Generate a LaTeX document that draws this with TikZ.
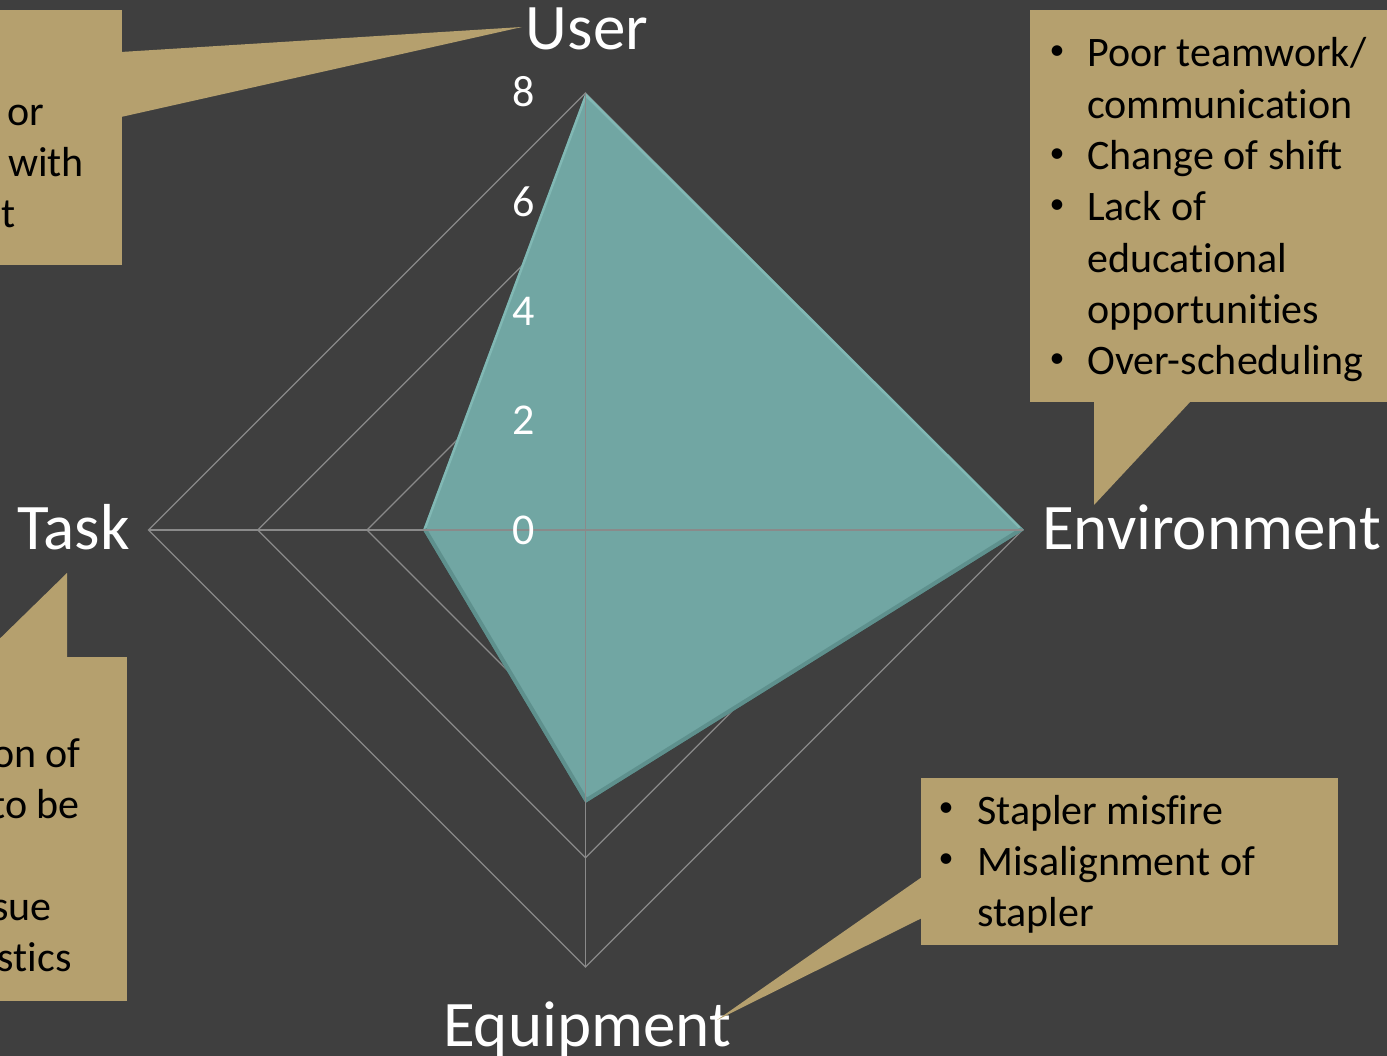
\documentclass[tikz,border=0pt]{standalone}
\usepackage{fontspec}
\setmainfont[Ligatures=NoCommon]{Carlito}
\definecolor{bgc}{HTML}{3F3F3F}
\definecolor{tanc}{RGB}{181,160,110}
\definecolor{radarfill}{HTML}{71A6A3}
\definecolor{radarlight}{HTML}{8CC4C0}
\definecolor{radardark}{HTML}{4F7F7C}
\definecolor{gridc}{HTML}{8A8A8A}
\begin{document}
\begin{tikzpicture}[x=1pt,y=-1pt,
  callout/.style={fill=tanc, draw=none},
  calltext/.style={font=\fontsize{42}{51}\selectfont, text=black, inner sep=0pt},
  bullettext/.style={font=\fontsize{30}{36}\selectfont, text=black, inner sep=0pt, anchor=center},
  axislab/.style={font=\fontsize{65}{78}\selectfont, text=white, inner sep=0pt},
  ticklab/.style={font=\fontsize{44}{53}\selectfont, text=white, inner sep=0pt, anchor=base},
  gridline/.style={draw=gridc, line width=1.3pt}]
\useasboundingbox (0,0) rectangle (1387,1056);
\clip (0,0) rectangle (1387,1056);
\fill[bgc] (0,0) rectangle (1387,1056);

% radar grid rings
\foreach \r in {109.25,218.5,327.75,437}
  \draw[gridline] (585.5,530-\r) -- (585.5+\r,530) -- (585.5,530+\r) -- (585.5-\r,530) -- cycle;

% data polygon
\coordinate (pU) at (585.5,93);
\coordinate (pE) at (1024,530);
\coordinate (pQ) at (585.5,803);
\coordinate (pT) at (423,530);
\foreach \s/\o in {2/0.25,4/0.2,6/0.15}
  \fill[black,opacity=\o,shift={(\s*0.6,\s)}] (pU) -- (pE) -- (pQ) -- (pT) -- cycle;
\fill[radarfill] (pU) -- (pE) -- (pQ) -- (pT) -- cycle;
\begin{scope}
  \clip (pU) -- (pE) -- (pQ) -- (pT) -- cycle;
  \draw[radarlight, line width=5pt, opacity=0.6] (pT) -- (pU) -- (pE);
  \draw[radardark, line width=8pt, opacity=0.55] (pE) -- (pQ) -- (pT);
\end{scope}

% spokes
\draw[gridline] (585.5,93) -- (585.5,967);
\draw[gridline] (148.5,530) -- (1022.5,530);

% tick labels
\node[ticklab] (t8) at (524,107) {8};
\node[ticklab] (t6) at (524,216.25) {6};
\node[ticklab] (t4) at (524,325.5) {4};
\node[ticklab] (t2) at (524,434.75) {2};
\node[ticklab] (t0) at (524,544) {0};

% axis labels
\node[axislab, anchor=base] (user) at (587,50) {User};
\node[axislab, anchor=base east] (task) at (130,549) {Task};
\node[axislab, anchor=base west] (env) at (1042,549) {Environment};
\node[axislab, anchor=base] (equip) at (587,1046) {Equipment};

% callout: user (top left)
\fill[callout] (-40,10) rectangle (122,265);
\fill[callout] (121,52) -- (522,27) -- (121,117) -- cycle;
\node[calltext, anchor=base east] (u1) at (44,126) {or};
\node[calltext, anchor=base east] (u2) at (84,177) {with};
\node[calltext, anchor=base east] (u3) at (16,228) {t};

% callout: task (bottom left)
\fill[callout] (-40,657) rectangle (127,1001);
\fill[callout] (-20,658) -- (67,573) -- (67,658) -- cycle;
\node[calltext, anchor=base east] (k1) at (81,767) {on of};
\node[calltext, anchor=base east] (k2) at (80,818) {to be};
\node[calltext, anchor=base east] (k3) at (52,920) {sue};
\node[calltext, anchor=base east] (k4) at (72,971) {stics};

% callout: environment (top right)
\fill[callout] (1030,10) rectangle (1400,402);
\fill[callout] (1094,401) -- (1094,505) -- (1191,401) -- cycle;
\node[bullettext] (eb1) at (1057,53) {•};
\node[calltext, anchor=base west] (e1) at (1087,67) {Poor teamwork/};
\node[calltext, anchor=base west] (e2) at (1087,118.3) {communication};
\node[bullettext] (eb3) at (1057,155.7) {•};
\node[calltext, anchor=base west] (e3) at (1087,169.7) {Change of shift};
\node[bullettext] (eb4) at (1057,207) {•};
\node[calltext, anchor=base west] (e4) at (1087,221) {Lack of};
\node[calltext, anchor=base west] (e5) at (1087,272.3) {educational};
\node[calltext, anchor=base west] (e6) at (1087,323.7) {opportunities};
\node[bullettext] (eb7) at (1057,361) {•};
\node[calltext, anchor=base west] (e7) at (1087,375) {Over-scheduling};

% callout: equipment (bottom right)
\fill[callout] (921,778) rectangle (1338,945);
\fill[callout] (922,877) -- (717,1020) -- (922,918) -- cycle;
\node[bullettext] (qb1) at (946,810) {•};
\node[calltext, anchor=base west] (q1) at (977,824) {Stapler misfire};
\node[bullettext] (qb2) at (946,861) {•};
\node[calltext, anchor=base west] (q2) at (977,875) {Misalignment of};
\node[calltext, anchor=base west] (q3) at (977,926) {stapler};
\end{tikzpicture}
\end{document}
